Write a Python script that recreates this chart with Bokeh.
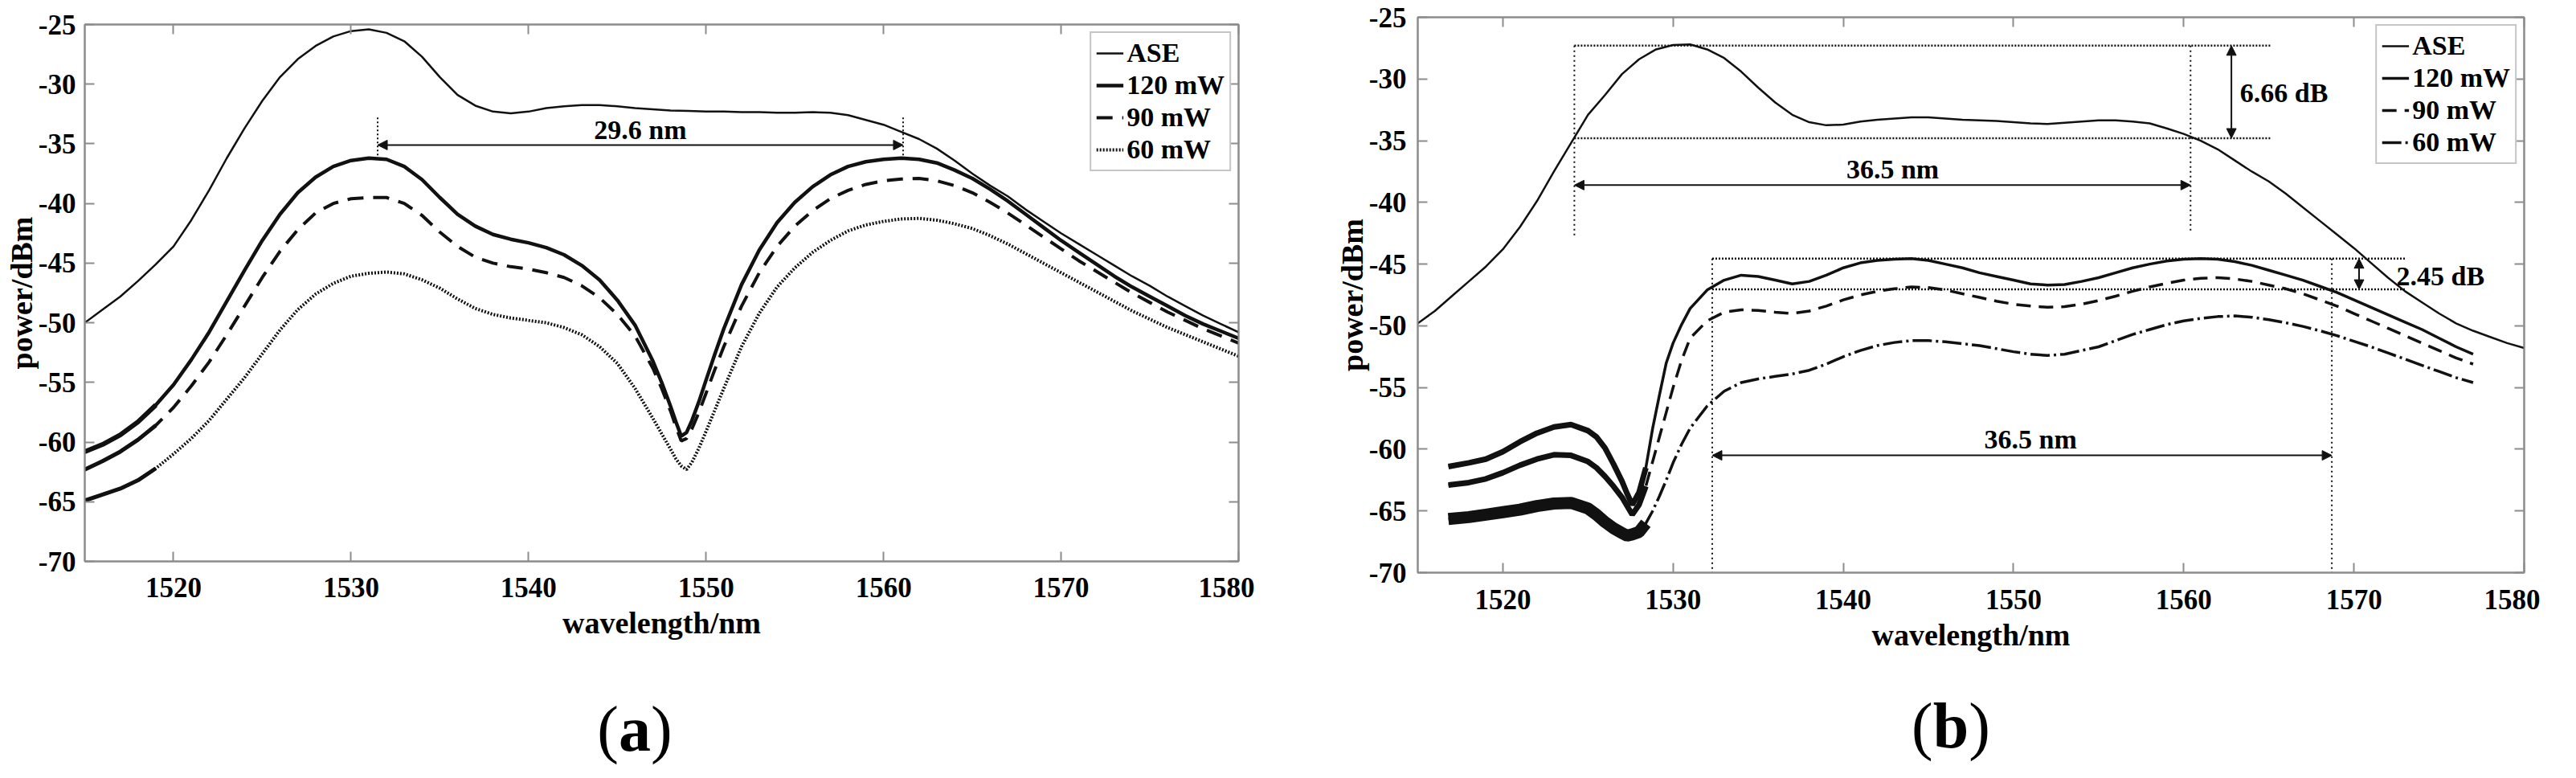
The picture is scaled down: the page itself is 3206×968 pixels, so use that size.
from bokeh.plotting import figure
from bokeh.layouts import row, column
from bokeh.models import (Range1d, LinearAxis, FixedTicker, Legend, LegendItem,
                          Arrow, NormalHead, Label, Div)
from bokeh.embed import file_html
from bokeh.resources import INLINE

# ---------------- data: panel (a) ----------------
wl_a_ase = [1515, 1516, 1517, 1518, 1519, 1520, 1521, 1522, 1523, 1524, 1525, 1526, 1527, 1528, 1529,
            1530, 1531, 1532, 1533, 1534, 1535, 1536, 1537, 1538, 1539, 1540, 1541, 1542, 1543, 1544,
            1545, 1546, 1547, 1548, 1549, 1550, 1551, 1552, 1553, 1554, 1555, 1556, 1557, 1558, 1559,
            1560, 1561, 1562, 1563, 1564, 1565, 1566, 1567, 1568, 1569, 1570, 1571, 1572, 1573, 1574,
            1575, 1576, 1577, 1578, 1579, 1580]
p_a_ase = [-50.0, -48.9, -47.8, -46.5, -45.1, -43.6, -41.4, -38.9, -36.2, -33.7, -31.4, -29.4, -27.9, -26.8, -26.0,
           -25.55, -25.4, -25.7, -26.4, -27.7, -29.4, -30.9, -31.8, -32.3, -32.45, -32.3, -32.0, -31.85, -31.75, -31.75,
           -31.85, -32.0, -32.1, -32.2, -32.25, -32.3, -32.3, -32.35, -32.35, -32.4, -32.4, -32.35, -32.4, -32.6, -33.0,
           -33.4, -34.0, -34.6, -35.4, -36.4, -37.5, -38.5, -39.4, -40.5, -41.5, -42.5, -43.4, -44.3, -45.2, -46.1,
           -46.9, -47.8, -48.6, -49.4, -50.1, -50.8]

wl_a = [1515, 1516, 1517, 1518, 1519, 1520, 1521, 1522, 1523, 1524, 1525, 1526, 1527, 1528, 1529, 1530,
        1531, 1532, 1533, 1534, 1535, 1536, 1537, 1538, 1539, 1540, 1541, 1542, 1543, 1544, 1545, 1546,
        1547, 1547.5, 1548, 1548.3, 1548.6, 1548.9, 1549.2, 1549.6, 1550, 1550.5, 1551,
        1552, 1553, 1554, 1555, 1556, 1557, 1558, 1559, 1560, 1561, 1562, 1563, 1564, 1565, 1566,
        1567, 1568, 1569, 1570, 1571, 1572, 1573, 1574, 1575, 1576, 1577, 1578, 1579, 1580]
p_a_120 = [-60.8, -60.2, -59.4, -58.3, -56.9, -55.2, -53.1, -50.8, -48.2, -45.6, -43.1, -40.9, -39.1, -37.8, -36.9, -36.4,
           -36.2, -36.3, -36.9, -38.0, -39.5, -40.9, -41.9, -42.6, -43.0, -43.3, -43.7, -44.3, -45.2, -46.4, -48.1, -50.2,
           -53.2, -55.0, -57.0, -58.3, -59.5, -59.2, -58.2, -56.6, -54.8, -52.6, -50.5,
           -46.8, -43.9, -41.6, -39.9, -38.6, -37.6, -36.9, -36.5, -36.3, -36.2, -36.3, -36.6, -37.2, -37.9, -38.8,
           -39.8, -40.9, -42.0, -43.1, -44.1, -45.1, -46.1, -47.0, -47.8, -48.6, -49.4, -50.1, -50.7, -51.3]
p_a_90 = [-62.3, -61.6, -60.8, -59.8, -58.6, -57.1, -55.3, -53.3, -51.0, -48.6, -46.2, -44.0, -42.2, -40.8, -40.0, -39.6,
          -39.5, -39.5, -40.0, -41.0, -42.4, -43.6, -44.5, -45.0, -45.3, -45.5, -45.8, -46.2, -46.9, -47.9, -49.3, -51.1,
          -53.8, -55.5, -57.4, -58.7, -59.9, -59.7, -58.9, -57.5, -55.9, -53.9, -52.0,
          -48.6, -45.8, -43.6, -41.9, -40.6, -39.6, -38.9, -38.4, -38.1, -37.95, -37.9, -38.1, -38.5, -39.1, -39.9,
          -40.8, -41.8, -42.8, -43.8, -44.8, -45.7, -46.6, -47.5, -48.3, -49.1, -49.8, -50.5, -51.1, -51.7]
p_a_60 = [-64.9, -64.4, -63.9, -63.2, -62.2, -61.0, -59.7, -58.2, -56.4, -54.6, -52.6, -50.6, -48.9, -47.6, -46.7, -46.1,
          -45.85, -45.75, -45.9, -46.4, -47.1, -48.0, -48.8, -49.3, -49.6, -49.8, -50.0, -50.4, -51.0, -52.0, -53.4, -55.5,
          -58.0, -59.3, -60.6, -61.4, -62.0, -62.3, -61.7, -60.5, -59.1, -57.3, -55.5,
          -52.0, -49.2, -47.0, -45.4, -44.1, -43.1, -42.3, -41.8, -41.5, -41.3, -41.25, -41.4, -41.7, -42.1, -42.7,
          -43.4, -44.2, -45.0, -45.8, -46.6, -47.4, -48.2, -49.0, -49.7, -50.4, -51.0, -51.6, -52.2, -52.8]

# annotation values, panel (a)
bw_a_edges = [1531.5, 1561.1]      # 29.6 nm
bw_a_level = -35.1
bw_a_marker_top = -32.8
bw_a_marker_bottom = -36.1

# ---------------- data: panel (b) ----------------
wl_b_ase = wl_a_ase
p_b_ase = [-49.8, -48.8, -47.6, -46.4, -45.2, -43.8, -42.0, -39.9, -37.5, -35.2, -32.9, -31.3, -29.6, -28.4, -27.6,
           -27.25, -27.2, -27.6, -28.3, -29.4, -30.7, -31.9, -32.9, -33.5, -33.75, -33.7, -33.45, -33.3, -33.2, -33.1,
           -33.1, -33.2, -33.3, -33.35, -33.4, -33.5, -33.6, -33.65, -33.55, -33.45, -33.35, -33.35, -33.45, -33.6, -34.0,
           -34.45, -35.0, -35.7, -36.6, -37.5, -38.3, -39.3, -40.4, -41.5, -42.6, -43.7, -44.9, -46.1, -47.2, -48.1,
           -49.0, -49.8, -50.4, -50.9, -51.4, -51.8]

wl_b = [1516.8, 1518, 1519, 1520, 1521, 1522, 1523, 1524, 1525, 1525.5, 1526, 1526.5, 1527, 1527.3, 1527.6,
        1528, 1528.4, 1528.8, 1529.2, 1529.6, 1530, 1530.5, 1531,
        1532, 1533, 1534, 1535, 1536, 1537, 1538, 1539, 1540, 1541, 1542, 1543, 1544, 1545, 1546, 1547,
        1548, 1549, 1550, 1551, 1552, 1553, 1554, 1555, 1556, 1557, 1558, 1559, 1560, 1561, 1562, 1563,
        1564, 1565, 1566, 1567, 1568, 1569, 1570, 1571, 1572, 1573, 1574, 1575, 1576, 1577]
p_b_120 = [-61.4, -61.1, -60.8, -60.2, -59.4, -58.7, -58.2, -58.0, -58.5, -59.0, -59.9, -61.2, -62.6, -63.6, -64.5,
           -63.5, -61.5, -58.3, -55.6, -53.0, -51.4, -49.9, -48.6,
           -47.1, -46.3, -45.9, -46.0, -46.3, -46.6, -46.4, -45.9, -45.3, -44.9, -44.7, -44.6, -44.55, -44.7, -45.0, -45.3,
           -45.7, -46.0, -46.3, -46.6, -46.7, -46.65, -46.4, -46.1, -45.7, -45.3, -45.0, -44.75, -44.6, -44.55, -44.6, -44.8,
           -45.1, -45.5, -45.9, -46.3, -46.8, -47.3, -47.9, -48.5, -49.1, -49.7, -50.3, -51.0, -51.7, -52.3]
p_b_90 = [-62.9, -62.7, -62.4, -61.9, -61.3, -60.8, -60.45, -60.5, -61.0, -61.5, -62.2, -63.0, -63.9, -64.6, -65.3,
          -64.5, -63.0, -61.0, -59.0, -57.0, -55.0, -52.8, -51.0,
          -49.6, -48.9, -48.7, -48.75, -48.9, -49.0, -48.8, -48.4, -47.9, -47.5, -47.2, -47.0, -46.85, -46.9, -47.1, -47.4,
          -47.7, -48.0, -48.25, -48.4, -48.5, -48.45, -48.25, -47.95, -47.6, -47.2, -46.85, -46.55, -46.3, -46.15, -46.1, -46.2,
          -46.4, -46.7, -47.0, -47.4, -47.9, -48.4, -49.0, -49.6, -50.2, -50.8, -51.4, -52.0, -52.6, -53.1]
p_b_60 = [-65.65, -65.5, -65.3, -65.1, -64.9, -64.6, -64.4, -64.35, -64.8, -65.3, -65.9, -66.4, -66.8, -67.0, -66.9,
          -66.7, -66.0, -65.0, -63.8, -62.5, -61.1, -59.6, -58.3,
          -56.5, -55.3, -54.6, -54.3, -54.1, -53.9, -53.6, -53.1, -52.5, -52.0, -51.6, -51.35, -51.2, -51.2, -51.3, -51.45,
          -51.6, -51.85, -52.1, -52.3, -52.4, -52.3, -52.0, -51.7, -51.2, -50.7, -50.3, -49.9, -49.6, -49.4, -49.25, -49.2,
          -49.3, -49.5, -49.75, -50.05, -50.4, -50.8, -51.25, -51.7, -52.2, -52.7, -53.2, -53.7, -54.2, -54.6]

# annotation values, panel (b)
ase_b_edges = [1524.2, 1560.4]     # 36.5 nm (ASE)
ase_b_levels = [-27.3, -34.8]      # 6.66 dB
ase_b_arrow_level = -38.6
pump_b_edges = [1532.3, 1568.7]    # 36.5 nm (pumped)
pump_b_levels = [-44.55, -47.05]   # 2.45 dB
pump_b_arrow_level = -60.5

x_ticks = [1520, 1530, 1540, 1550, 1560, 1570, 1580]
y_ticks = [-70, -65, -60, -55, -50, -45, -40, -35, -30, -25]

FONT = "Liberation Serif"
AXC = "#8c8c8c"
INK = "#111111"


def style_axis(ax):
    ax.axis_line_color = AXC
    ax.axis_line_width = 2
    ax.major_tick_line_color = AXC
    ax.major_tick_line_width = 2
    ax.major_tick_in = 12
    ax.major_tick_out = 0
    ax.minor_tick_line_color = None
    ax.major_label_text_font = FONT
    ax.major_label_text_font_style = "bold"
    ax.major_label_text_font_size = "35px"
    ax.major_label_text_color = "black"
    ax.axis_label_text_font = FONT
    ax.axis_label_text_font_style = "bold"
    ax.axis_label_text_font_size = "38px"
    ax.axis_label_text_color = "black"


def make_panel(frame_w, frame_h, left, right, top, bottom, xl_standoff, yl_standoff,
               xlab_standoff, ylab_standoff):
    p = figure(frame_width=frame_w, frame_height=frame_h,
               x_range=Range1d(1515, 1580), y_range=Range1d(-70, -25),
               output_backend="svg", toolbar_location=None,
               min_border_left=left, min_border_right=right,
               min_border_top=top, min_border_bottom=bottom,
               x_axis_label="wavelength/nm", y_axis_label="power/dBm")
    p.xgrid.visible = False
    p.ygrid.visible = False
    p.outline_line_color = AXC
    p.outline_line_width = 2
    p.background_fill_color = "white"
    p.border_fill_color = "white"
    xa = p.xaxis[0]
    ya = p.yaxis[0]
    style_axis(xa)
    style_axis(ya)
    xa.ticker = FixedTicker(ticks=x_ticks)
    ya.ticker = FixedTicker(ticks=y_ticks)
    xa.major_label_overrides = {t: str(t) for t in x_ticks}
    ya.major_label_overrides = {t: str(t) for t in y_ticks}
    xa.major_label_standoff = xl_standoff
    ya.major_label_standoff = yl_standoff
    xa.axis_label_standoff = xlab_standoff
    ya.axis_label_standoff = ylab_standoff
    top_ax = LinearAxis(ticker=FixedTicker(ticks=x_ticks),
                        major_label_overrides={t: "" for t in x_ticks})
    right_ax = LinearAxis(ticker=FixedTicker(ticks=y_ticks),
                          major_label_overrides={t: "" for t in y_ticks})
    for ax in (top_ax, right_ax):
        style_axis(ax)
        ax.major_label_text_font_size = "0px"
        ax.major_label_standoff = 0
    p.add_layout(top_ax, "above")
    p.add_layout(right_ax, "right")
    return p


def add_legend(p, items):
    leg = Legend(items=[LegendItem(label=l, renderers=[r]) for l, r in items],
                 location="top_right")
    leg.label_text_font = FONT
    leg.label_text_font_style = "bold"
    leg.label_text_font_size = "34px"
    leg.label_text_color = "black"
    leg.glyph_width = 34
    leg.glyph_height = 38
    leg.label_height = 38
    leg.label_standoff = 4
    leg.spacing = 2
    leg.padding = 6
    leg.margin = 9
    leg.border_line_color = AXC
    leg.border_line_width = 2
    leg.background_fill_color = "white"
    leg.background_fill_alpha = 1
    p.add_layout(leg)


def arrow(p, x0, y0, x1, y1):
    p.add_layout(Arrow(start=NormalHead(size=12, fill_color=INK, line_color=INK),
                       end=NormalHead(size=12, fill_color=INK, line_color=INK),
                       x_start=x0, y_start=y0, x_end=x1, y_end=y1,
                       line_color=INK, line_width=2))


def text(p, x, y, s, align="center"):
    p.add_layout(Label(x=x, y=y, text=s, text_font=FONT, text_font_style="bold",
                       text_font_size="34px", text_color="black",
                       text_align=align, text_baseline="middle"))


def caption(letter, width, height, pad_top, pad_left):
    html = ('<div style="width:%dpx;box-sizing:border-box;text-align:center;'
            'font-family:\'Liberation Serif\';font-size:80px;line-height:80px;color:black;'
            'padding-top:%dpx;padding-left:%dpx;">(<b>%s</b>)</div>'
            % (width, pad_top, pad_left, letter))
    return Div(text=html, width=width, height=height, margin=(0, 0, 0, 0))


# ---------------- panel (a) ----------------
pa = make_panel(1436, 668, 105, 20, 30, 110, 20, 11, 8, -3)
ra_ase = pa.line(wl_a_ase, p_a_ase, line_color=INK, line_width=2.5)
ra_120 = pa.line(wl_a, p_a_120, line_color=INK, line_width=4.5)
ra_90 = pa.line(wl_a, p_a_90, line_color=INK, line_width=4, line_dash="20 12")
ra_60 = pa.line(wl_a, p_a_60, line_color=INK, line_width=4, line_dash="2 2")
# noisy short-wavelength ends
pa.line(wl_a[:5], p_a_120[:5], line_color=INK, line_width=6)
pa.line(wl_a[:5], p_a_90[:5], line_color=INK, line_width=5)
pa.line(wl_a[:5], p_a_60[:5], line_color=INK, line_width=5)
add_legend(pa, [("ASE", ra_ase), ("120 mW", ra_120), ("90 mW", ra_90), ("60 mW", ra_60)])
for xe in bw_a_edges:
    pa.line([xe, xe], [bw_a_marker_top, bw_a_marker_bottom], line_color=INK,
            line_width=2, line_dash="2 3")
arrow(pa, bw_a_edges[0], bw_a_level, bw_a_edges[1], bw_a_level)
text(pa, sum(bw_a_edges) / 2, -33.8, "29.6 nm")

# ---------------- panel (b) ----------------
pb = make_panel(1377, 691, 203, 20, 21, 110, 21, 14, 8, -3)
rb_ase = pb.line(wl_b_ase, p_b_ase, line_color=INK, line_width=2.5)
rb_120 = pb.line(wl_b, p_b_120, line_color=INK, line_width=3.5)
rb_90 = pb.line(wl_b, p_b_90, line_color=INK, line_width=3.5, line_dash="18 10")
rb_60 = pb.line(wl_b, p_b_60, line_color=INK, line_width=3.5, line_dash="24 5 3 5")
pb.line(wl_b[:17], p_b_120[:17], line_color=INK, line_width=7)
pb.line(wl_b[:17], p_b_90[:17], line_color=INK, line_width=7)
pb.line(wl_b[:17], p_b_60[:17], line_color=INK, line_width=15)
add_legend(pb, [("ASE", rb_ase), ("120 mW", rb_120), ("90 mW", rb_90), ("60 mW", rb_60)])

# ASE bandwidth / flatness marks
for lv in ase_b_levels:
    pb.line([ase_b_edges[0], 1565.1], [lv, lv], line_color=INK, line_width=2.5, line_dash="2 2")
pb.line([ase_b_edges[0]] * 2, [ase_b_levels[0], -42.9], line_color=INK, line_width=2, line_dash="2 4")
pb.line([ase_b_edges[1]] * 2, [ase_b_levels[0], -42.5], line_color=INK, line_width=2, line_dash="2 4")
arrow(pb, ase_b_edges[0], ase_b_arrow_level, ase_b_edges[1], ase_b_arrow_level)
arrow(pb, 1562.8, ase_b_levels[0], 1562.8, ase_b_levels[1])
text(pb, sum(ase_b_edges) / 2 + 0.6, -37.3, "36.5 nm")
text(pb, 1563.3, -31.1, "6.66 dB", align="left")

# pumped bandwidth / flatness marks
for lv in pump_b_levels:
    pb.line([pump_b_edges[0], 1573.0], [lv, lv], line_color=INK, line_width=2.5, line_dash="2 2")
for xe in pump_b_edges:
    pb.line([xe, xe], [pump_b_levels[0], -70], line_color=INK, line_width=2, line_dash="2 4")
arrow(pb, pump_b_edges[0], pump_b_arrow_level, pump_b_edges[1], pump_b_arrow_level)
arrow(pb, 1570.3, pump_b_levels[0], 1570.3, pump_b_levels[1])
text(pb, sum(pump_b_edges) / 2 + 0.5, -59.2, "36.5 nm")
text(pb, 1572.5, -46.0, "2.45 dB", align="left")

cap_a = caption("a", 1561, 140, 59, 19)
cap_b = caption("b", 1600, 126, 41, 134)

layout = row(column(pa, cap_a), column(pb, cap_b))
open("out.html", "w").write(file_html(layout, INLINE))
